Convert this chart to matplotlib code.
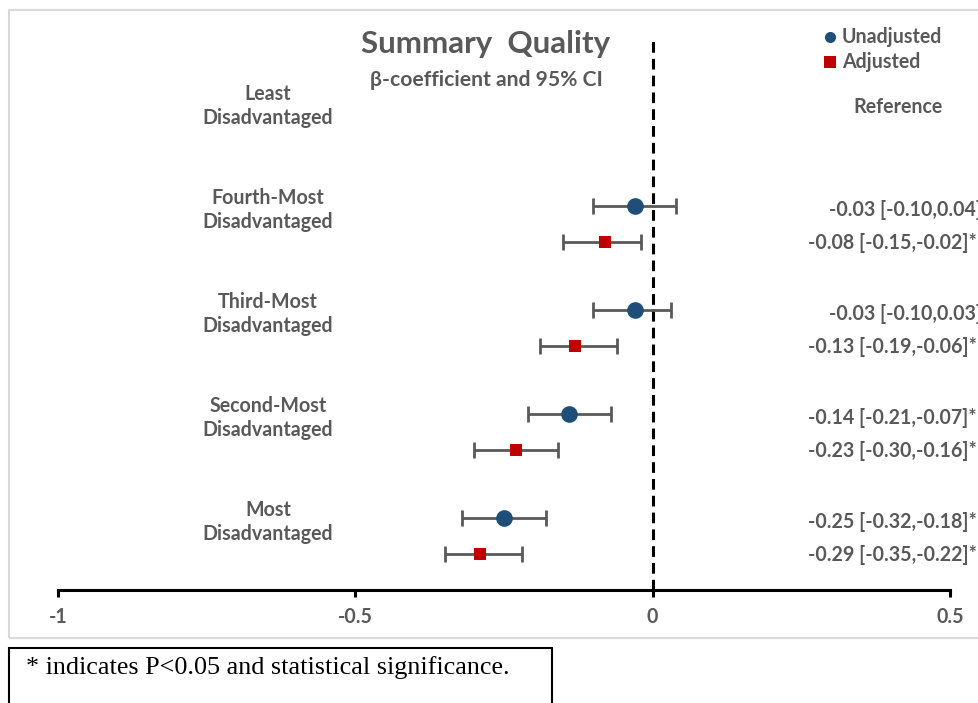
import matplotlib.pyplot as plt
import matplotlib.patches as patches
import numpy as np

# rows from top to bottom; the first one is the reference group (no estimate)
groups = ['Least\nDisadvantaged', 'Fourth-Most\nDisadvantaged', 'Third-Most\nDisadvantaged',
          'Second-Most\nDisadvantaged', 'Most\nDisadvantaged']

unadj_est = [-0.03, -0.03, -0.14, -0.25]
unadj_lo = [-0.10, -0.10, -0.21, -0.32]
unadj_hi = [0.04, 0.03, -0.07, -0.18]
unadj_sig = [False, False, True, True]

adj_est = [-0.08, -0.13, -0.23, -0.29]
adj_lo = [-0.15, -0.19, -0.30, -0.35]
adj_hi = [-0.02, -0.06, -0.16, -0.22]
adj_sig = [True, True, True, True]

xticks = [-1, -0.5, 0, 0.5]
xticklabels = ['-1', '-0.5', '0', '0.5']

W, H = 979, 703
gray = '#595959'
blue = '#1F4E79'
red = '#C00000'
fs = 14.1
plt.rcParams['font.family'] = ['Lato', 'DejaVu Sans']

fig = plt.figure(figsize=(W / 100, H / 100), dpi=100)

# outer chart border and footnote box (figure pixel coords)
def fx(p):
    return p / W

def fy(p):
    return 1 - p / H

fig.patches.append(patches.Rectangle((fx(9), fy(638)), fx(990) - fx(9), fy(10) - fy(638),
                                     transform=fig.transFigure, fill=False,
                                     edgecolor='#D9D9D9', linewidth=1.5))
fig.patches.append(patches.Rectangle((fx(9), fy(720)), fx(552) - fx(9), fy(648) - fy(720),
                                     transform=fig.transFigure, fill=False,
                                     edgecolor='black', linewidth=1.5))
fig.text(fx(26), fy(668), '* indicates P<0.05 and statistical significance.',
         family='Liberation Serif', fontsize=18.8, color='black', va='center', ha='left')

# axes: x from -1 (px 58) to 0.5 (px 950), y from px 0 to px 590
ax = fig.add_axes([fx(58), fy(590), fx(950) - fx(58), 590 / H])
ax.set_xlim(-1, 0.5)
ax.set_ylim((590 - 102) / 104, -102 / 104)
ax.patch.set_visible(False)

ypos = np.arange(1, len(groups))
off = 36 / 104

ax.errorbar(unadj_est, ypos, xerr=[np.array(unadj_est) - np.array(unadj_lo),
                                   np.array(unadj_hi) - np.array(unadj_est)],
            fmt='none', ecolor=gray, elinewidth=2, capsize=6, capthick=2, zorder=2)
ax.errorbar(adj_est, ypos + off, xerr=[np.array(adj_est) - np.array(adj_lo),
                                       np.array(adj_hi) - np.array(adj_est)],
            fmt='none', ecolor=gray, elinewidth=2, capsize=6, capthick=2, zorder=2)
ax.plot(unadj_est, ypos, 'o', color=blue, markersize=12, markeredgewidth=0, zorder=3)
ax.plot(adj_est, ypos + off, 's', color=red, markersize=9, markeredgewidth=0, zorder=3)

ax.axvline(0, ymin=0, ymax=(590 - 38) / 590, color='black', linestyle=(0, (3.5, 2)),
           linewidth=2.2, zorder=1)

# row labels
for i, g in enumerate(groups):
    ax.text(-0.647, i + 4 / 104, g, ha='center', va='center', fontsize=fs,
            fontweight='bold', color=gray, linespacing=1.3, clip_on=False)

# estimate labels on the right
def lab(e, lo, hi, s):
    return '%.2f [%.2f,%.2f]' % (e, lo, hi) + ('*' if s else '')

for i in range(len(ypos)):
    t = lab(unadj_est[i], unadj_lo[i], unadj_hi[i], unadj_sig[i])
    ax.text(0.261 if unadj_sig[i] else 0.297, ypos[i] + 4 / 104, t, ha='left', va='center',
            fontsize=fs, fontweight='bold', color=gray, clip_on=False)
    t = lab(adj_est[i], adj_lo[i], adj_hi[i], adj_sig[i])
    ax.text(0.261 if adj_sig[i] else 0.297, ypos[i] + off + 1 / 104, t, ha='left', va='center',
            fontsize=fs, fontweight='bold', color=gray, clip_on=False)

ax.text(0.412, 5 / 104, 'Reference', ha='center', va='center', fontsize=fs,
        fontweight='bold', color=gray, clip_on=False)

# title
fig.text(fx(486), fy(44), 'Summary  Quality', ha='center', va='center', fontsize=22.5,
         fontweight='bold', color=gray)
fig.text(fx(486), fy(80), '\u03b2-coefficient and 95% CI', ha='center', va='center',
         fontsize=15.2, fontweight='bold', color=gray)

# legend
fig.lines.append(plt.Line2D([fx(830)], [fy(37)], marker='o', color=blue, markersize=8,
                            markeredgewidth=0, transform=fig.transFigure))
fig.lines.append(plt.Line2D([fx(830)], [fy(62)], marker='s', color=red, markersize=8,
                            markeredgewidth=0, transform=fig.transFigure))
fig.text(fx(842), fy(37), 'Unadjusted', ha='left', va='center', fontsize=fs,
         fontweight='bold', color=gray)
fig.text(fx(842), fy(62), 'Adjusted', ha='left', va='center', fontsize=fs,
         fontweight='bold', color=gray)

# axis styling
for s in ['top', 'left', 'right']:
    ax.spines[s].set_visible(False)
ax.spines['bottom'].set_linewidth(2.2)
ax.set_yticks([])
ax.set_xticks(xticks)
ax.set_xticklabels(xticklabels, fontsize=fs, fontweight='bold', color=gray)
ax.tick_params(axis='x', direction='out', length=5, width=2.2, pad=7)

fig.savefig('out.png', dpi=100)
